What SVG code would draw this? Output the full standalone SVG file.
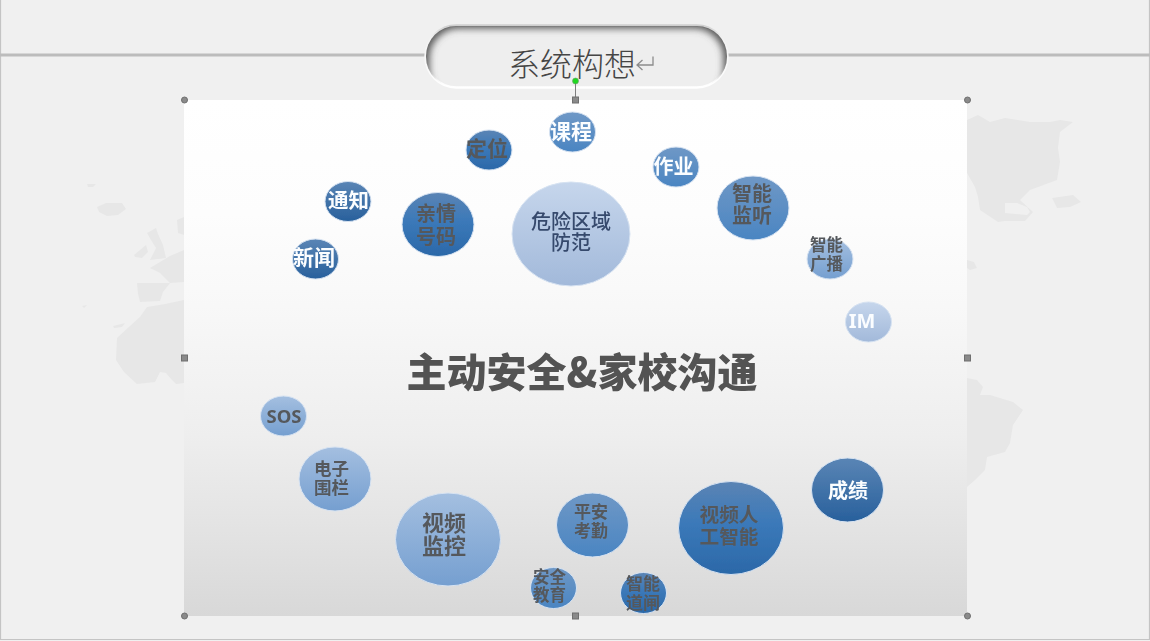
<svg xmlns="http://www.w3.org/2000/svg" width="1150" height="641" viewBox="0 0 1150 641">
<style>
.cjk{font-family:"Noto Sans CJK SC","Noto Sans",sans-serif;text-anchor:middle;font-weight:700}
.w{fill:#fbfdff}.g{fill:#55585c}.n{fill:#36496c;font-weight:500}
.map{fill:#e7e7e7}
.h{fill:#8a8a8a;stroke:#6f6f6f;stroke-width:1}
.c{stroke:#d6e2f1;stroke-width:1;filter:url(#soft)}
.t{filter:url(#softT)}
</style>
<defs>
<linearGradient id="bg" x1="0" y1="0" x2="0" y2="1">
<stop offset="0" stop-color="#ffffff"/><stop offset=".22" stop-color="#fdfdfd"/><stop offset=".4" stop-color="#f8f8f8"/><stop offset=".65" stop-color="#eeeeee"/><stop offset=".85" stop-color="#e2e2e2"/><stop offset="1" stop-color="#d8d8d8"/>
</linearGradient>
<linearGradient id="dark" x1="0" y1="0" x2="0" y2="1"><stop offset="0" stop-color="#5b84b4"/><stop offset=".45" stop-color="#3b79b9"/><stop offset="1" stop-color="#2b68a8"/></linearGradient>
<linearGradient id="mid" x1="0" y1="0" x2="0" y2="1"><stop offset="0" stop-color="#6f98c6"/><stop offset="1" stop-color="#4a85c2"/></linearGradient>
<linearGradient id="soft2" x1="0" y1="0" x2="0" y2="1"><stop offset="0" stop-color="#a4bfe0"/><stop offset="1" stop-color="#759fd0"/></linearGradient>
<linearGradient id="pale" x1="0" y1="0" x2="0" y2="1"><stop offset="0" stop-color="#c6d6ec"/><stop offset="1" stop-color="#a2b9da"/></linearGradient>
<linearGradient id="navy" x1="0" y1="0" x2="0" y2="1"><stop offset="0" stop-color="#5a85b5"/><stop offset="1" stop-color="#28609c"/></linearGradient>
<linearGradient id="rim" x1="0" y1="0" x2="0" y2="1"><stop offset="0" stop-color="#cfcfcf"/><stop offset=".2" stop-color="#f2f2f2"/><stop offset="1" stop-color="#ffffff"/></linearGradient>
<filter id="soft" x="-10%" y="-10%" width="120%" height="120%"><feGaussianBlur stdDeviation="0.5"/></filter>
<filter id="softT" x="-10%" y="-10%" width="120%" height="120%"><feGaussianBlur stdDeviation="0.4"/></filter>
<filter id="softB" x="-5%" y="-20%" width="110%" height="140%"><feGaussianBlur stdDeviation="0.5"/></filter>
<filter id="inner" x="-10%" y="-30%" width="120%" height="160%"><feGaussianBlur stdDeviation="3.5"/></filter>
<clipPath id="pillClip"><rect x="426" y="26" width="301" height="61" rx="30" ry="30"/></clipPath>
</defs>

<rect width="1150" height="641" fill="#f0f0f0"/>
<path d="M.5 0V639.5H1149.5V0" fill="none" stroke="#c4c4c4" stroke-width="1.2"/>
<rect x="0" y="53.500" width="1150" height="3" fill="#bcbcbc"/>

<g id="world-map">
<path class="map" d="M97 207L106 203 122 203 126 209 118 215 107 216 99 212Z"/>
<path class="map" d="M87 184L96 184 93 187 88 187ZM82 306L87 305 84 308ZM113 326L125 323 122 327 114 328Z"/>
<path class="map" d="M147 233L156 228 158 234 163 245 166 258 150 260 156 248 151 240Z"/>
<path class="map" d="M134 255L146 245 148 252 142 258 135 257Z"/>
<path class="map" d="M150 268L170 256 184 250 184 282 170 283 160 273Z"/>
<path class="map" d="M177 220L184 217 184 235 178 233Z"/>
<path class="map" d="M137 283L170 283 163 292 160 301 140 302 138 294Z"/>
<path class="map" d="M147 307L165 304 184 300 184 383 176 384 172 380 166 373 160 372 155 382 137 384 124 372 116 360 117 338 130 326 140 317Z"/>
<path class="map" fill-rule="evenodd" d="M967 120L978 115 990 122 1005 118 1030 122 1050 122 1060 120 1073 122 1060 132 1058 148 1060 162 1057 180 1030 190 1020 200 1033 212 1025 221 1005 221 998 222 980 210 978 197 975 187 967 173ZM1005 203L1005 213 1027 215 1030 212 1027 207 1017 203Z"/>
<path class="map" d="M1052 198L1073 195 1081 202 1070 207 1057 208Z"/>
<path class="map" d="M967 260L974 262 977 268 970 270 967 268Z"/>
<path class="map" d="M967 378L977 380 983 387 980 395 990 395 1013 402 1023 410 1013 425 1010 443 1005 452 987 457 985 470 975 480 967 487Z"/>
</g>

<rect id="picture" x="184" y="100" width="783" height="516" fill="url(#bg)"/>

<g id="title-pill">
<rect x="425.500" y="25.500" width="302" height="62" rx="31" ry="31" fill="#eeeeee" stroke="url(#rim)" stroke-width="2.500"/>
<g clip-path="url(#pillClip)">
<rect x="423" y="22" width="307" height="84" rx="36" ry="36" fill="none" stroke="#5a5a5a" stroke-width="13" filter="url(#inner)"/>
</g>
<text class="cjk" x="572" y="76" font-size="32" fill="#454545" style="font-weight:300">系统构想</text>
<path d="M653 56.500V65H637.500M642.500 60L637 65 642.500 70" fill="none" stroke="#8c8c8c" stroke-width="1.300"/>
</g>

<g id="title-main"><text class="cjk" x="582" y="387" font-size="40" fill="#525252" filter="url(#softB)" style="font-weight:900">主动安全&amp;家校沟通</text></g>

<g id="n-kecheng"><ellipse class="c" cx="572.500" cy="132" rx="23" ry="20" fill="url(#mid)"/><text class="cjk w t" font-size="21" x="571" y="139">课程</text></g>
<g id="n-dingwei"><ellipse class="c" cx="489" cy="150" rx="23" ry="20" fill="url(#dark)"/><text class="cjk g t" font-size="21" x="487" y="156">定位</text></g>
<g id="n-tongzhi"><ellipse class="c" cx="348" cy="201.500" rx="23" ry="20" fill="url(#navy)"/><text class="cjk w t" font-size="20.500" x="348.500" y="208">通知</text></g>
<g id="n-xinwen"><ellipse class="c" cx="315.500" cy="259" rx="23" ry="20" fill="url(#navy)"/><text class="cjk w t" font-size="21" x="314" y="265">新闻</text></g>
<g id="n-qinqing"><ellipse class="c" cx="438" cy="224.500" rx="36" ry="32" fill="url(#dark)"/><text class="cjk g t" font-size="20"><tspan x="436" y="220.500">亲情</tspan><tspan x="436" y="243.500">号码</tspan></text></g>
<g id="n-weixian"><ellipse class="c" cx="571" cy="234" rx="59" ry="52" fill="url(#pale)"/><text class="cjk n t" font-size="20"><tspan x="571" y="229">危险区域</tspan><tspan x="571" y="250">防范</tspan></text></g>
<g id="n-zuoye"><ellipse class="c" cx="676" cy="167" rx="23" ry="20" fill="url(#mid)"/><text class="cjk w t" font-size="20" x="673.500" y="173.500">作业</text></g>
<g id="n-jianting"><ellipse class="c" cx="753" cy="208" rx="36" ry="32" fill="url(#mid)"/><text class="cjk g t" font-size="20"><tspan x="752" y="200.500">智能</tspan><tspan x="752" y="222.500">监听</tspan></text></g>
<g id="n-guangbo"><ellipse class="c" cx="830" cy="259" rx="23" ry="20" fill="url(#soft2)"/><text class="cjk g t" font-size="16.500"><tspan x="826.500" y="251">智能</tspan><tspan x="826.500" y="270">广播</tspan></text></g>
<g id="n-im"><ellipse class="c" cx="868.500" cy="322" rx="23" ry="20" fill="url(#pale)"/><text class="cjk w t" font-size="20" x="862" y="327.500" style="font-family:'Noto Sans',sans-serif">IM</text></g>
<g id="n-sos"><ellipse class="c" cx="283.500" cy="416" rx="23" ry="20" fill="url(#soft2)"/><text class="cjk g t" font-size="18.500" x="284" y="422.500" style="font-family:'Noto Sans',sans-serif">SOS</text></g>
<g id="n-weilan"><ellipse class="c" cx="335" cy="479" rx="36" ry="32" fill="url(#soft2)"/><text class="cjk g t" font-size="17.500"><tspan x="331.500" y="475">电子</tspan><tspan x="331.500" y="494">围栏</tspan></text></g>
<g id="n-shipin"><ellipse class="c" cx="448" cy="539.500" rx="52.500" ry="46.500" fill="url(#soft2)"/><text class="cjk g t" font-size="22"><tspan x="444" y="531">视频</tspan><tspan x="444" y="554">监控</tspan></text></g>
<g id="n-kaoqin"><ellipse class="c" cx="592.500" cy="525" rx="36" ry="32" fill="url(#mid)"/><text class="cjk g t" font-size="17"><tspan x="591" y="518">平安</tspan><tspan x="591" y="537">考勤</tspan></text></g>
<g id="n-jiaoyu"><ellipse class="c" cx="553.500" cy="588" rx="23" ry="20.500" fill="url(#mid)"/><text class="cjk g t" font-size="16.500"><tspan x="549.500" y="583">安全</tspan><tspan x="549.500" y="601">教育</tspan></text></g>
<g id="n-daozha"><ellipse class="c" cx="643.500" cy="593" rx="23" ry="20.500" fill="url(#dark)"/><text class="cjk g t" font-size="17"><tspan x="643" y="590">智能</tspan><tspan x="643" y="609">道闸</tspan></text></g>
<g id="n-rengong"><ellipse class="c" cx="731" cy="528" rx="52.500" ry="46.500" fill="url(#dark)"/><text class="cjk g t" font-size="19.700"><tspan x="729" y="522">视频人</tspan><tspan x="729" y="544">工智能</tspan></text></g>
<g id="n-chengji"><ellipse class="c" cx="847.500" cy="490" rx="36" ry="32" fill="url(#navy)"/><text class="cjk w t" font-size="20" x="848" y="497.500">成绩</text></g>

<g id="selection-handles">
<path d="M575.500 81V97" stroke="#7d7d7d" stroke-width="1"/>
<circle cx="575.500" cy="81" r="3" fill="#1fd81f" stroke="#6d9a6d" stroke-width=".6"/>
<circle class="h" cx="184.500" cy="100" r="3"/><rect class="h" x="572.500" y="97" width="6" height="6"/><circle class="h" cx="967.500" cy="100" r="3"/>
<rect class="h" x="181.500" y="355" width="6" height="6"/><rect class="h" x="964.500" y="355" width="6" height="6"/>
<circle class="h" cx="184.500" cy="616" r="3"/><rect class="h" x="572.500" y="613" width="6" height="6"/><circle class="h" cx="967.500" cy="616" r="3"/>
</g>
<g id="connectors"></g>
</svg>
